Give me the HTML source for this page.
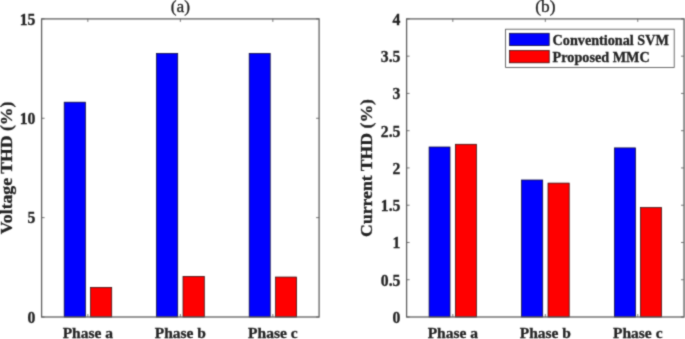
<!DOCTYPE html>
<html><head><meta charset="utf-8"><title>THD comparison</title>
<style>
html,body{margin:0;padding:0;background:#fff;}
body{width:685px;height:339px;overflow:hidden;}
svg{display:block;}
text{font-family:"Liberation Serif",serif;fill:#222;stroke:#222;stroke-width:0.3px;}
.t{font-size:15.7px;font-weight:bold;}
.xt{font-size:15.5px;font-weight:bold;}
.ti{font-size:17.4px;}
.yl{font-size:17.7px;font-weight:bold;}
.lg{font-size:14.2px;font-weight:bold;}
</style></head><body>
<svg width="685" height="339" viewBox="0 0 685 339">
<rect width="685" height="339" fill="#fff"/>
<defs><filter id="soft" x="0" y="0" width="100%" height="100%" filterUnits="userSpaceOnUse" color-interpolation-filters="sRGB"><feConvolveMatrix order="3" kernelMatrix="0.035 0.1 0.035 0.1 0.46 0.1 0.035 0.1 0.035" divisor="1" edgeMode="duplicate" preserveAlpha="true"/></filter></defs>
<g filter="url(#soft)">
<rect width="685" height="339" fill="#fff"/>
<rect x="64.20" y="102.20" width="21.20" height="214.80" fill="#0000ff" stroke="#0a0a30" stroke-width="0.75"/>
<rect x="156.50" y="53.40" width="21.20" height="263.60" fill="#0000ff" stroke="#0a0a30" stroke-width="0.75"/>
<rect x="249.20" y="53.40" width="21.00" height="263.60" fill="#0000ff" stroke="#0a0a30" stroke-width="0.75"/>
<rect x="90.60" y="287.40" width="21.10" height="29.60" fill="#ff0000" stroke="#300a0a" stroke-width="0.75"/>
<rect x="183.00" y="276.40" width="21.30" height="40.60" fill="#ff0000" stroke="#300a0a" stroke-width="0.75"/>
<rect x="275.60" y="277.05" width="21.00" height="39.95" fill="#ff0000" stroke="#300a0a" stroke-width="0.75"/>
<path d="M87.85 317.0v-3M87.85 18.9v3M180.35 317.0v-3M180.35 18.9v3M272.85 317.0v-3M272.85 18.9v3M41.6 317.00h3M319.1 317.00h-3M41.6 217.63h3M319.1 217.63h-3M41.6 118.27h3M319.1 118.27h-3M41.6 18.90h3M319.1 18.90h-3" stroke="#777" stroke-width="1" fill="none"/>
<rect x="41.6" y="18.9" width="277.50" height="298.10" fill="none" stroke="#5c5c5c" stroke-width="1.25"/>
<text x="35.40" y="322.85" text-anchor="end" class="t">0</text>
<text x="35.40" y="223.48" text-anchor="end" class="t">5</text>
<text x="35.40" y="124.12" text-anchor="end" class="t">10</text>
<text x="35.40" y="24.75" text-anchor="end" class="t">15</text>
<text x="87.85" y="337.9" text-anchor="middle" class="xt">Phase a</text>
<text x="180.35" y="337.9" text-anchor="middle" class="xt">Phase b</text>
<text x="272.85" y="337.9" text-anchor="middle" class="xt">Phase c</text>
<text x="180.35" y="12.4" text-anchor="middle" class="ti">(a)</text>
<text transform="translate(12.2 167.95) rotate(-90)" text-anchor="middle" class="yl">Voltage THD (%)</text>
<rect x="429.10" y="147.00" width="20.90" height="170.00" fill="#0000ff" stroke="#0a0a30" stroke-width="0.75"/>
<rect x="521.50" y="180.00" width="21.20" height="137.00" fill="#0000ff" stroke="#0a0a30" stroke-width="0.75"/>
<rect x="614.40" y="147.90" width="21.10" height="169.10" fill="#0000ff" stroke="#0a0a30" stroke-width="0.75"/>
<rect x="455.40" y="144.30" width="21.00" height="172.70" fill="#ff0000" stroke="#300a0a" stroke-width="0.75"/>
<rect x="548.00" y="183.10" width="21.20" height="133.90" fill="#ff0000" stroke="#300a0a" stroke-width="0.75"/>
<rect x="640.50" y="207.60" width="21.00" height="109.40" fill="#ff0000" stroke="#300a0a" stroke-width="0.75"/>
<path d="M452.83 317.0v-3M452.83 18.9v3M545.30 317.0v-3M545.30 18.9v3M637.77 317.0v-3M637.77 18.9v3M406.6 317.00h3M684.0 317.00h-3M406.6 279.74h3M684.0 279.74h-3M406.6 242.47h3M684.0 242.47h-3M406.6 205.21h3M684.0 205.21h-3M406.6 167.95h3M684.0 167.95h-3M406.6 130.69h3M684.0 130.69h-3M406.6 93.42h3M684.0 93.42h-3M406.6 56.16h3M684.0 56.16h-3M406.6 18.90h3M684.0 18.90h-3" stroke="#777" stroke-width="1" fill="none"/>
<rect x="406.6" y="18.9" width="277.40" height="298.10" fill="none" stroke="#5c5c5c" stroke-width="1.25"/>
<text x="400.40" y="322.85" text-anchor="end" class="t">0</text>
<text x="400.40" y="285.59" text-anchor="end" class="t">0.5</text>
<text x="400.40" y="248.32" text-anchor="end" class="t">1</text>
<text x="400.40" y="211.06" text-anchor="end" class="t">1.5</text>
<text x="400.40" y="173.80" text-anchor="end" class="t">2</text>
<text x="400.40" y="136.54" text-anchor="end" class="t">2.5</text>
<text x="400.40" y="99.27" text-anchor="end" class="t">3</text>
<text x="400.40" y="62.01" text-anchor="end" class="t">3.5</text>
<text x="400.40" y="24.75" text-anchor="end" class="t">4</text>
<text x="452.83" y="337.9" text-anchor="middle" class="xt">Phase a</text>
<text x="545.30" y="337.9" text-anchor="middle" class="xt">Phase b</text>
<text x="637.77" y="337.9" text-anchor="middle" class="xt">Phase c</text>
<text x="545.30" y="12.4" text-anchor="middle" class="ti">(b)</text>
<text transform="translate(372.3 167.95) rotate(-90)" text-anchor="middle" class="yl">Current THD (%)</text>
<rect x="505.6" y="29.2" width="168.6" height="38.3" fill="#fff" stroke="#4a4a4a" stroke-width="0.8"/>
<rect x="509.6" y="33.3" width="39.6" height="12.3" fill="#0000ff" stroke="#0a0a30" stroke-width="0.75"/>
<rect x="509.6" y="50.5" width="39.6" height="12.3" fill="#ff0000" stroke="#300a0a" stroke-width="0.75"/>
<text x="552.6" y="44.5" class="lg">Conventional SVM</text>
<text x="552.6" y="61.8" class="lg">Proposed MMC</text>
</g>
</svg>
</body></html>
